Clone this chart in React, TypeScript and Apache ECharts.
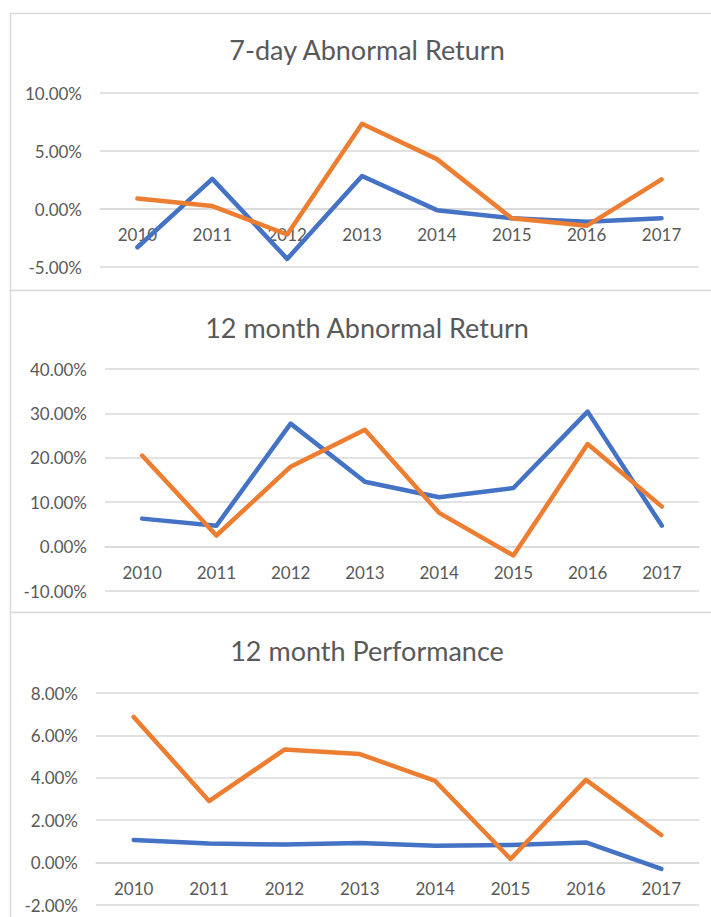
import React, { useEffect, useRef } from "react";
import * as echarts from "echarts";

const years = ["2010", "2011", "2012", "2013", "2014", "2015", "2016", "2017"];

const titles = ["7-day Abnormal Return", "12 month Abnormal Return", "12 month Performance"];

const sevenDayBlue = [-3.3, 2.6, -4.3, 2.85, -0.1, -0.8, -1.1, -0.8];
const sevenDayOrange = [0.9, 0.25, -2.2, 7.35, 4.3, -0.8, -1.45, 2.55];

const twelveAbnBlue = [6.3, 4.7, 27.7, 14.6, 11.1, 13.2, 30.4, 4.7];
const twelveAbnOrange = [20.5, 2.5, 18.0, 26.3, 7.6, -2.0, 23.1, 9.0];

const twelvePerfBlue = [1.07, 0.9, 0.85, 0.93, 0.8, 0.83, 0.95, -0.3];
const twelvePerfOrange = [6.87, 2.9, 5.33, 5.12, 3.85, 0.17, 3.9, 1.3];

const axisRanges = [
  { min: -5, max: 10, interval: 5 },
  { min: -10, max: 40, interval: 10 },
  { min: -2, max: 8, interval: 2 },
];

const BLUE = "#4472C4";
const ORANGE = "#ED7D31";
const TEXT = "#595959";
const GRID = "#d9d9d9";
const FONT = "Lato, 'Open Sans', sans-serif";

export default function App() {
  const ref = useRef<HTMLDivElement>(null);
  useEffect(() => {
    if (!ref.current) return;
    const chart = echarts.init(ref.current, undefined, { renderer: "svg" });

    const grids = [
      { left: 100, right: 12, top: 93, height: 174 },
      { left: 105, right: 12, top: 369, height: 222 },
      { left: 96, right: 12, top: 693, height: 212 },
    ];
    const titleY = [49, 327, 650];
    const panels = [
      { y: 13.5, h: 277 },
      { y: 290.5, h: 322 },
      { y: 612.5, h: 330 },
    ];
    const seriesData = [
      [sevenDayBlue, sevenDayOrange],
      [twelveAbnBlue, twelveAbnOrange],
      [twelvePerfBlue, twelvePerfOrange],
    ];

    // distance (px) from grid bottom up to the zero line, so the category axis sits at 0
    const zeroOffset = grids.map((g, i) => {
      const r = axisRanges[i];
      return -(g.height * (0 - r.min)) / (r.max - r.min);
    });

    const xAxis = grids.map((_, i) => ({
      type: "category",
      gridIndex: i,
      data: years,
      boundaryGap: true,
      position: "bottom",
      offset: zeroOffset[i],
      axisLine: { show: true, onZero: false, lineStyle: { color: GRID, width: 1.5 } },
      axisTick: { show: false },
      axisLabel: { color: TEXT, fontSize: 17, fontFamily: FONT, margin: 17 },
    }));
    const yAxis = grids.map((_, i) => ({
      type: "value",
      gridIndex: i,
      min: axisRanges[i].min,
      max: axisRanges[i].max,
      interval: axisRanges[i].interval,
      axisLine: { show: false },
      axisTick: { show: false },
      splitLine: { lineStyle: { color: GRID, width: 1.5 } },
      axisLabel: {
        color: TEXT,
        fontSize: 17,
        fontFamily: FONT,
        margin: 18,
        formatter: (v: number) => v.toFixed(2) + "%",
      },
    }));
    const series: any[] = [];
    seriesData.forEach((pair, i) => {
      [BLUE, ORANGE].forEach((c, j) => {
        series.push({
          type: "line",
          xAxisIndex: i,
          yAxisIndex: i,
          data: pair[j],
          symbol: "none",
          z: 3,
          lineStyle: { color: c, width: 4.5, cap: "round", join: "round" },
          itemStyle: { color: c },
        });
      });
    });

    const graphic: any[] = panels.map((p) => ({
      type: "rect",
      silent: true,
      z: -10,
      shape: { x: 10.5, y: p.y, width: 720, height: p.h },
      style: { fill: "#fff", stroke: GRID, lineWidth: 1.5 },
    }));
    titles.forEach((t, i) => {
      graphic.push({
        type: "text",
        x: 367,
        y: titleY[i],
        style: {
          text: t,
          fill: TEXT,
          font: `27px ${FONT}`,
          textAlign: "center",
          textVerticalAlign: "middle",
        },
      });
    });

    chart.setOption({
      animation: false,
      backgroundColor: "#fff",
      grid: grids,
      xAxis,
      yAxis,
      series,
      graphic,
    });
    return () => chart.dispose();
  }, []);
  return (
    <div
      ref={ref}
      style={{ position: "fixed", left: 0, top: 0, width: 711, height: 917 }}
    />
  );
}
